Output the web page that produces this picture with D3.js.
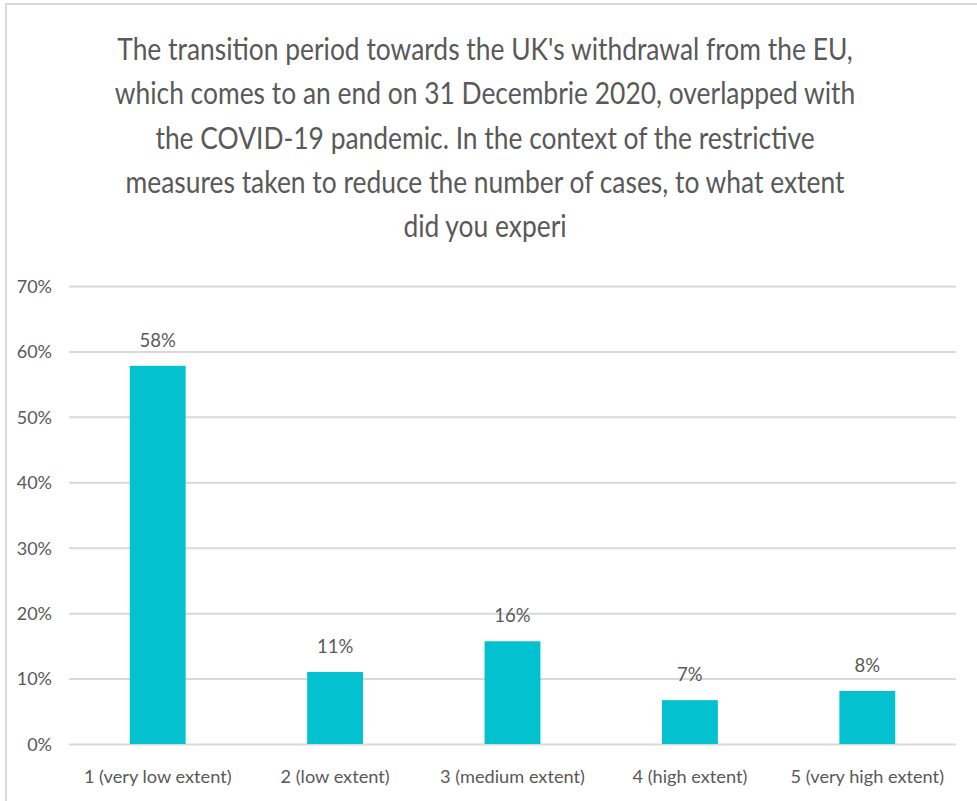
<!DOCTYPE html>
<html>
<head>
<meta charset="utf-8">
<script src="https://cdn.jsdelivr.net/npm/d3@7"></script>
<style>
  html, body { margin: 0; padding: 0; background: #ffffff; }
  svg { display: block; }
  text { font-family: Lato, Carlito, "Open Sans", sans-serif; }
</style>
</head>
<body>
<svg id="chart" width="977" height="801"></svg>
<script>
const titleLines = [
  "The transition period towards the UK's withdrawal from the EU,",
  "which comes to an end on 31 Decembrie 2020, overlapped with",
  "the COVID-19 pandemic. In the context of the restrictive",
  "measures taken to reduce the number of cases, to what extent",
  "did you experi"
];
const categories = ["1 (very low extent)", "2 (low extent)", "3 (medium extent)", "4 (high extent)", "5 (very high extent)"];
const values = [0.578, 0.110, 0.157, 0.067, 0.081];
const valueLabels = ["58%", "11%", "16%", "7%", "8%"];
const yTicks = [0, 0.1, 0.2, 0.3, 0.4, 0.5, 0.6, 0.7];

const W = 977, H = 801;
const plot = { left: 69, right: 956, top: 286, bottom: 744 };
const textColor = "#595959";
const gridColor = "#D9D9D9";
const barColor = "#04C1CF";

const svg = d3.select("#chart");

// frame
svg.append("line").attr("x1", 5).attr("x2", W).attr("y1", 4).attr("y2", 4)
  .attr("stroke", gridColor).attr("stroke-width", 2);
svg.append("line").attr("x1", 6).attr("x2", 6).attr("y1", 4).attr("y2", H)
  .attr("stroke", gridColor).attr("stroke-width", 2);

// title (horizontally condensed like the reference)
const title = svg.append("text")
  .attr("transform", "translate(485,0) scale(0.88,1)")
  .attr("text-anchor", "middle")
  .attr("fill", textColor)
  .attr("font-size", 30);
titleLines.forEach((t, i) => {
  title.append("tspan").attr("x", 0).attr("y", 60 + i * 44.3).text(t);
});

const x = d3.scaleBand().domain(categories).range([plot.left, plot.right])
  .paddingInner(0.685).paddingOuter(0.685 / 2);
const y = d3.scaleLinear().domain([0, 0.7]).range([plot.bottom, plot.top]);

// gridlines + y labels
const yAxis = d3.axisLeft(y).tickValues(yTicks).tickFormat(d3.format(".0%"))
  .tickSize(-(plot.right - plot.left)).tickPadding(17);
const gy = svg.append("g").attr("transform", `translate(${plot.left},0)`).call(yAxis);
gy.select(".domain").remove();
gy.selectAll(".tick line").attr("stroke", gridColor).attr("stroke-width", 2);
gy.selectAll(".tick text").attr("fill", textColor).attr("font-size", 18).attr("dy", "0.35em");

// bars
svg.append("g").selectAll("rect").data(values).join("rect")
  .attr("x", (d, i) => x(categories[i]))
  .attr("width", x.bandwidth())
  .attr("y", d => y(d))
  .attr("height", d => y(0) - y(d))
  .attr("fill", barColor);

// value labels
svg.append("g").selectAll("text").data(values).join("text")
  .attr("x", (d, i) => x(categories[i]) + x.bandwidth() / 2)
  .attr("y", d => y(d) - 19)
  .attr("text-anchor", "middle")
  .attr("fill", textColor)
  .attr("font-size", 18.5)
  .text((d, i) => valueLabels[i]);

// x axis labels
const xAxis = d3.axisBottom(x).tickSize(0).tickPadding(26);
const gx = svg.append("g").attr("transform", `translate(0,${plot.bottom})`).call(xAxis);
gx.select(".domain").remove();
gx.selectAll(".tick text").attr("fill", textColor).attr("font-size", 18.2);
</script>
</body>
</html>
